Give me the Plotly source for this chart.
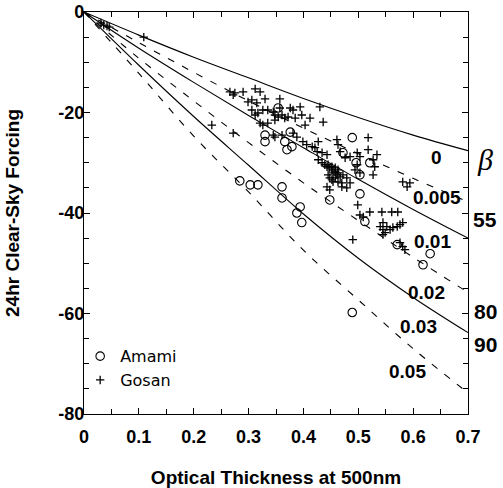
import plotly.graph_objects as go

# ---- model curves ----
tau_grid = [0.0, 0.1, 0.2, 0.3, 0.4, 0.5, 0.6, 0.7]
curve_b0 = [0, -4.6, -9.0, -13.1, -17.2, -21.0, -24.5, -27.6]
curve_b0005 = [0, -6.1, -12.0, -17.7, -23.1, -28.2, -33.1, -37.8]
curve_b001 = [0, -7.2, -14.0, -20.6, -27.0, -33.3, -39.3, -45.0]
curve_b002 = [0, -9.2, -17.7, -26.0, -34.0, -41.5, -48.8, -55.8]
curve_b003 = [0, -10.6, -20.8, -30.5, -40.2, -49.0, -56.8, -63.8]
curve_b005 = [0, -12.2, -24.7, -35.8, -47.4, -57.3, -67.0, -75.8]
curve_names = ["0", "0.005", "0.01", "0.02", "0.03", "0.05"]
curve_dash = ["solid", "dash", "solid", "dash", "solid", "dash"]

# line label positions (data units)
label_tau = [0.643, 0.643, 0.636, 0.625, 0.609, 0.589]
label_F = [-29.0, -37.0, -45.7, -55.9, -62.6, -71.6]

# beta labels to the right of the frame
beta_text = ["β", "55", "80", "90"]
beta_tau = 0.731
beta_F = [-29.4, -41.2, -59.6, -66.2]

# ---- Amami observations ----
amami_tau = [0.284, 0.303, 0.317, 0.330, 0.330, 0.361, 0.361, 0.376, 0.366, 0.370,
             0.379, 0.394, 0.388, 0.397, 0.354, 0.448, 0.489, 0.472, 0.496, 0.521,
             0.503, 0.503, 0.512, 0.571, 0.631, 0.618, 0.489]
amami_F = [-33.6, -34.4, -34.4, -24.5, -25.8, -34.8, -37.0, -23.9, -25.8, -27.4,
           -26.8, -38.8, -40.0, -41.9, -19.1, -37.4, -25.0, -28.0, -30.0, -30.0,
           -32.4, -36.2, -41.7, -46.3, -48.1, -50.3, -59.8]

# ---- Gosan observations ----
gosan_tau = [0.031, 0.036, 0.042, 0.046, 0.109, 0.233, 0.272, 0.266, 0.272, 0.275,
             0.290, 0.299, 0.312, 0.321, 0.306, 0.315, 0.330, 0.357, 0.306, 0.317,
             0.326, 0.335, 0.345, 0.312, 0.321, 0.335, 0.348, 0.348, 0.354, 0.361,
             0.366, 0.372, 0.357, 0.376, 0.381, 0.394, 0.397, 0.385, 0.412, 0.403,
             0.430, 0.436, 0.326, 0.345, 0.348, 0.361, 0.381, 0.388, 0.399, 0.406,
             0.416, 0.421, 0.427, 0.425, 0.434, 0.443, 0.427, 0.434, 0.439, 0.445,
             0.443, 0.448, 0.452, 0.452, 0.454, 0.458, 0.458, 0.461, 0.463, 0.463,
             0.467, 0.472, 0.479, 0.448, 0.454, 0.463, 0.470, 0.445, 0.452, 0.458,
             0.443, 0.448, 0.479, 0.485, 0.470, 0.461, 0.463, 0.467, 0.476, 0.485,
             0.498, 0.503, 0.518, 0.518, 0.534, 0.527, 0.530, 0.527, 0.498, 0.494,
             0.503, 0.581, 0.589, 0.594, 0.499, 0.503, 0.509, 0.521, 0.543, 0.561,
             0.572, 0.545, 0.552, 0.558, 0.563, 0.571, 0.576, 0.581, 0.540, 0.545,
             0.549, 0.545, 0.490, 0.576, 0.581, 0.585]
gosan_F = [-2.2, -2.6, -2.8, -3.0, -5.0, -22.5, -24.1, -15.9, -16.5, -16.1,
           -15.9, -17.9, -15.3, -15.9, -17.5, -18.1, -17.3, -17.3, -19.5, -20.1,
           -19.5, -19.5, -19.9, -20.5, -22.1, -22.1, -21.5, -20.5, -20.9, -20.5,
           -21.1, -20.9, -19.1, -19.1, -19.5, -18.9, -20.5, -21.1, -21.1, -22.5,
           -18.9, -21.9, -22.5, -24.5, -24.9, -24.5, -24.1, -24.9, -25.8, -26.4,
           -26.8, -27.0, -25.8, -27.8, -28.0, -28.4, -29.4, -30.0, -30.4, -30.4,
           -30.8, -31.0, -30.8, -31.4, -32.0, -31.0, -31.8, -32.4, -31.4, -32.0,
           -32.8, -32.4, -33.0, -33.0, -33.8, -33.8, -34.0, -32.4, -33.4, -33.0,
           -34.8, -35.4, -35.0, -34.0, -34.8, -25.4, -26.4, -27.8, -29.0, -28.8,
           -28.0, -28.8, -25.0, -27.4, -28.4, -29.4, -30.8, -32.4, -30.4, -31.4,
           -32.0, -33.8, -34.8, -34.0, -38.4, -40.4, -40.8, -39.8, -39.8, -39.8,
           -39.8, -41.9, -42.7, -43.3, -42.9, -42.7, -42.3, -41.9, -42.7, -43.3,
           -43.9, -44.3, -45.3, -45.9, -46.7, -47.3]

x_range = [0, 0.7]
y_range = [-80, 0]
x_ticks = [0, 0.1, 0.2, 0.3, 0.4, 0.5, 0.6, 0.7]
x_ticklabels = ["0", "0.1", "0.2", "0.3", "0.4", "0.5", "0.6", "0.7"]
y_ticks = [0, -20, -40, -60, -80]
y_ticklabels = ["0", "-20", "-40", "-60", "-80"]

curves = [curve_b0, curve_b0005, curve_b001, curve_b002, curve_b003, curve_b005]

fig = go.Figure()
for name, vals, dash in zip(curve_names, curves, curve_dash):
    fig.add_trace(go.Scatter(
        x=tau_grid, y=vals, mode="lines", showlegend=False,
        line=dict(color="black", width=1.1, shape="spline",
                  dash="solid" if dash == "solid" else "7px,9px"),
        hoverinfo="skip"))

fig.add_trace(go.Scatter(
    x=amami_tau, y=amami_F, mode="markers", name="Amami",
    marker=dict(symbol="circle-open", size=8.5, color="black",
                line=dict(width=1.1, color="black"))))
fig.add_trace(go.Scatter(
    x=gosan_tau, y=gosan_F, mode="markers", name="Gosan",
    marker=dict(symbol="cross-thin-open", size=6, color="black",
                line=dict(width=1.3, color="black"))))

bold = dict(family="Liberation Sans", size=19, color="black", weight="bold")
for t, tx, ty in zip(curve_names, label_tau, label_F):
    fig.add_annotation(x=tx, y=ty, text=t, showarrow=False, xref="x", yref="y",
                       font=bold, xanchor="center", yanchor="middle")

for t, fy in zip(beta_text, beta_F):
    if t == "β":
        f = dict(family="Liberation Serif", size=30, color="black", style="italic")
    else:
        f = dict(family="Liberation Sans", size=21, color="black", weight="bold")
    fig.add_annotation(x=(beta_tau - x_range[0]) / (x_range[1] - x_range[0]),
                       y=fy, text=t, showarrow=False, xref="paper", yref="y",
                       font=f, xanchor="center", yanchor="middle")

tickfont = dict(family="Liberation Sans", size=18, color="black", weight="bold")
titlefont = dict(family="Liberation Sans", size=19, color="black", weight="bold")

fig.update_xaxes(
    range=x_range, tickvals=x_ticks, ticktext=x_ticklabels,
    ticks="inside", ticklen=6, tickwidth=1, tickcolor="black",
    minor=dict(ticks="inside", ticklen=5, dtick=0.05, tickwidth=1, tickcolor="black"),
    showline=True, linecolor="black", linewidth=1.3, mirror="ticks",
    showgrid=False, zeroline=False, tickfont=tickfont, ticklabelstandoff=6,
    title=dict(text="Optical Thickness at 500nm", font=titlefont, standoff=26))
fig.update_yaxes(
    range=y_range, tickvals=y_ticks, ticktext=y_ticklabels,
    ticks="inside", ticklen=6, tickwidth=1, tickcolor="black",
    minor=dict(ticks="inside", ticklen=5, dtick=5, tickwidth=1, tickcolor="black"),
    showline=True, linecolor="black", linewidth=1.3, mirror="ticks",
    showgrid=False, zeroline=False, tickfont=tickfont, ticklabelstandoff=-5,
    title=dict(text="24hr Clear-Sky Forcing", font=titlefont, standoff=33))

fig.update_layout(
    width=503, height=488,
    margin=dict(l=84, r=35, t=12, b=74, autoexpand=False),
    paper_bgcolor="white", plot_bgcolor="white",
    legend=dict(x=-0.01, y=0.186, xanchor="left", yanchor="top",
                font=dict(family="DejaVu Sans", size=16, color="black"),
                bgcolor="rgba(0,0,0,0)", itemwidth=30, tracegroupgap=0),
)

fig.write_html("out.html", config={"displayModeBar": False},
               post_script="document.body.style.margin='0';")
